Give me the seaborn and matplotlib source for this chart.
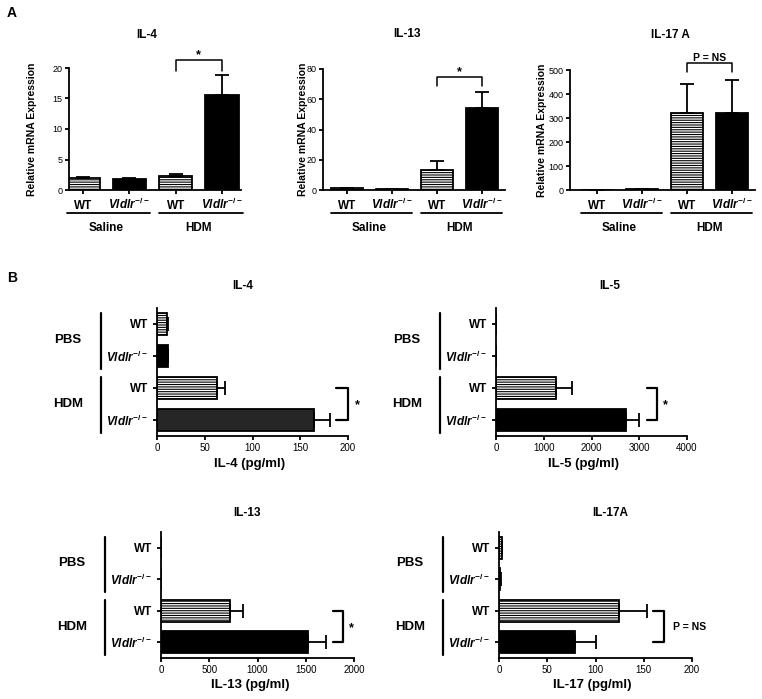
import numpy as np
import pandas as pd
import matplotlib
matplotlib.use('Agg')
import matplotlib.pyplot as plt
import matplotlib.transforms as mtransforms
import seaborn as sns

# --- Values (mean and upper error bar) ---
a_groups = ['Saline', 'Saline', 'HDM', 'HDM']
a_genotypes = ['WT', 'Vldlr', 'WT', 'Vldlr']

a_il4_mean = [1.9, 1.8, 2.3, 15.6]
a_il4_err = [0.3, 0.15, 0.35, 3.2]
a_il13_mean = [1.0, 0.6, 13.5, 54.0]
a_il13_err = [0.3, 0.2, 5.5, 11.0]
a_il17_mean = [1.5, 4.0, 322, 320]
a_il17_err = [0.5, 1.0, 118, 140]

b_groups = ['PBS', 'PBS', 'HDM', 'HDM']
b_genotypes = ['WT', 'Vldlr', 'WT', 'Vldlr']

b_il4_mean = [10, 11, 63, 164]
b_il4_err = [1, 1, 8, 17]
b_il5_mean = [0, 0, 1250, 2720]
b_il5_err = [0, 0, 350, 280]
b_il13_mean = [0, 0, 715, 1525]
b_il13_err = [0, 0, 135, 185]
b_il17_mean = [3, 1.5, 124, 79]
b_il17_err = [0.5, 0.5, 29, 21]

# --- Style ---
sns.set_style('ticks')
plt.rcParams['font.family'] = ['Liberation Sans', 'DejaVu Sans']
plt.rcParams.update({
    'mathtext.fontset': 'custom',
    'mathtext.it': 'Liberation Sans:italic:bold',
    'mathtext.rm': 'Liberation Sans:bold',
    'mathtext.bf': 'Liberation Sans:bold',
    'hatch.linewidth': 0.8,
    'hatch.color': 'black',
    'axes.linewidth': 1.3,
    'axes.edgecolor': 'black',
    'axes.labelcolor': 'black',
    'text.color': 'black',
    'xtick.color': 'black',
    'ytick.color': 'black',
    'xtick.major.width': 1.3,
    'ytick.major.width': 1.3,
    'xtick.major.size': 3,
    'ytick.major.size': 3,
})

W, H = 762, 699
fig = plt.figure(figsize=(W / 100, H / 100), dpi=100)


def add_ax(left, top, right, bottom):
    return fig.add_axes([left / W, 1 - bottom / H, (right - left) / W, (bottom - top) / H])


def geno_label(g):
    return 'WT' if g == 'WT' else r'$Vldlr^{-/-}$'


def style_bars(ax, genotypes):
    for patch, g in zip(ax.patches, genotypes):
        patch.set_edgecolor('black')
        if g == 'WT':
            patch.set_facecolor('white')
            patch.set_hatch('-------')


def fig_text(x, y, s, **kw):
    fig.text(x / W, 1 - y / H, s, ha='center', va='center', fontweight='bold', **kw)


# --- Panel A: vertical bars ---
def panel_a(rect, means, errs, ylim, yticks, xlim, ylabel_right, sig_px, sig_text, sig_size):
    ax = add_ax(*rect)
    left, top, right, bottom = rect
    keys = [f'{g} {t}' for g, t in zip(a_groups, a_genotypes)]
    colors = ['white' if t == 'WT' else 'black' for t in a_genotypes]
    df = pd.DataFrame({'key': keys, 'value': means})
    sns.barplot(data=df, x='key', y='value', hue='key', order=keys, hue_order=keys,
                palette=colors, width=0.72, linewidth=1.3, errorbar=None,
                legend=False, ax=ax)
    style_bars(ax, a_genotypes)

    pos = np.arange(len(keys))
    m = np.array(errs) > 0
    ax.errorbar(pos[m], np.array(means)[m], yerr=[np.zeros(m.sum()), np.array(errs)[m]],
                fmt='none', ecolor='black', elinewidth=1.3, capsize=5, capthick=1.3)

    ax.set_xlim(*xlim)
    ax.set_ylim(*ylim)
    ax.set_yticks(yticks)
    ax.tick_params(axis='y', labelsize=6.5, pad=1.5)
    ax.set_xticks(pos)
    ax.set_xticklabels([geno_label(t) for t in a_genotypes], fontweight='bold', fontsize=8.5)
    ax.tick_params(axis='x', pad=10.5)
    plt.setp(ax.get_xticklabels(), va='baseline')
    ax.set_xlabel('')
    ax.set_ylabel('Relative mRNA Expression', fontweight='bold', fontsize=7.5)
    ax.yaxis.set_label_coords((ylabel_right - left) / (right - left), 0.5)
    sns.despine(ax=ax)

    h = bottom - top
    trans = mtransforms.blended_transform_factory(ax.transData, ax.transAxes)
    # group underlines and labels
    for i0, name in [(0, a_groups[0]), (2, a_groups[2])]:
        ax.plot([i0 - 0.35, i0 + 1.45], [-(213 - bottom) / h] * 2, transform=trans,
                clip_on=False, color='black', lw=1.3)
        ax.text(i0 + 0.5, -(228 - bottom) / h, name, transform=trans, ha='center',
                va='center', fontweight='bold', fontsize=8.5)
    # significance bracket
    y_hi, y_lo = [(bottom - p) / h for p in sig_px]
    ax.plot([2, 2, 3, 3], [y_lo, y_hi, y_hi, y_lo], transform=trans, clip_on=False,
            color='black', lw=1.1)
    ax.annotate(sig_text, xy=(2.5, y_hi), xycoords=trans, xytext=(0, 1.5),
                textcoords='offset points', ha='center', va='baseline',
                fontweight='bold', fontsize=sig_size)
    return ax


panel_a((69, 68, 241, 190), a_il4_mean, a_il4_err, (0, 20), [0, 5, 10, 15, 20],
        (-0.30, 3.41), 37, (60, 71), '*', 9)
panel_a((323, 69, 505, 190), a_il13_mean, a_il13_err, (0, 80), [0, 20, 40, 60, 80],
        (-0.53, 3.51), 308, (77, 86), '*', 9)
panel_a((570, 70, 755, 190), a_il17_mean, a_il17_err, (0, 500), [0, 100, 200, 300, 400, 500],
        (-0.60, 3.51), 547, (63, 72), 'P = NS', 7.5)

fig_text(147, 35, 'IL-4', fontsize=8.5)
fig_text(407, 34, 'IL-13', fontsize=8.5)
fig_text(670, 35, 'IL-17 A', fontsize=8.5)


# --- Panel B: horizontal bars ---
def panel_b(rect, means, errs, xmax, xticks, xlabel, xlabel_x, sig_x, sig_text, sig_size,
            hdm_ko_color='black'):
    ax = add_ax(*rect)
    left, top, right, bottom = rect
    w = right - left
    keys = [f'{g} {t}' for g, t in zip(b_groups, b_genotypes)]
    colors = ['white', 'black', 'white', hdm_ko_color]
    df = pd.DataFrame({'key': keys, 'value': means})
    sns.barplot(data=df, y='key', x='value', hue='key', order=keys, hue_order=keys,
                palette=colors, width=0.7, linewidth=1.3, errorbar=None,
                legend=False, orient='h', ax=ax)
    style_bars(ax, b_genotypes)

    pos = np.arange(len(keys))
    m = np.array(errs) > 0
    ax.errorbar(np.array(means)[m], pos[m], xerr=[np.zeros(m.sum()), np.array(errs)[m]],
                fmt='none', ecolor='black', elinewidth=1.3, capsize=5, capthick=1.3)

    ax.set_ylim(3.5, -0.5)
    ax.set_xlim(0, xmax)
    ax.set_xticks(xticks)
    ax.tick_params(axis='x', labelsize=7, pad=2)
    ax.set_yticks(pos)
    ax.set_yticklabels([geno_label(t) for t in b_genotypes], fontweight='bold', fontsize=8.5)
    ax.tick_params(axis='y', pad=3.5)
    ax.set_ylabel('')
    ax.set_xlabel(xlabel, fontweight='bold', fontsize=9.5)
    ax.xaxis.set_label_coords((xlabel_x - left) / w, -0.17)
    sns.despine(ax=ax)

    trans = mtransforms.blended_transform_factory(ax.transAxes, ax.transData)
    for i0, name in [(0, b_groups[0]), (2, b_groups[2])]:
        ax.plot([-56 / w] * 2, [i0 - 0.35, i0 + 1.4], transform=trans, clip_on=False,
                color='black', lw=1.6)
        ax.text(-89 / w, i0 + 0.5, name, transform=trans, ha='center', va='center',
                fontweight='bold', fontsize=9.5)
    x_lo, x_hi, x_txt = [(p - left) / w for p in sig_x]
    ax.plot([x_lo, x_hi, x_hi, x_lo], [2, 2, 3, 3], transform=trans, clip_on=False,
            color='black', lw=1.6)
    if sig_text == '*':
        ax.annotate(sig_text, xy=(x_txt, 2.5), xycoords=trans, xytext=(0, -1),
                    textcoords='offset points', ha='center', va='center',
                    fontweight='bold', fontsize=9)
    else:
        ax.text(x_txt, 2.5, sig_text, transform=trans, ha='left', va='center',
                fontweight='bold', fontsize=sig_size)
    return ax


panel_b((157, 308, 348, 436), b_il4_mean, b_il4_err, 200, [0, 50, 100, 150, 200],
        'IL-4 (pg/ml)', 250, (336, 348, 357), '*', 9, hdm_ko_color='#262626')
panel_b((496, 308, 687, 436), b_il5_mean, b_il5_err, 4000, [0, 1000, 2000, 3000, 4000],
        'IL-5 (pg/ml)', 583, (647, 657, 665), '*', 9)
panel_b((161, 532, 354, 658), b_il13_mean, b_il13_err, 2000, [0, 500, 1000, 1500, 2000],
        'IL-13 (pg/ml)', 250, (333, 343, 351), '*', 9)
panel_b((499, 532, 692, 658), b_il17_mean, b_il17_err, 200, [0, 50, 100, 150, 200],
        'IL-17 (pg/ml)', 592, (653, 664, 673), 'P = NS', 7.5)

fig_text(243, 286, 'IL-4', fontsize=8.5)
fig_text(610, 286, 'IL-5', fontsize=8.5)
fig_text(247, 513, 'IL-13', fontsize=8.5)
fig_text(610, 513, 'IL-17A', fontsize=8.5)

fig_text(12, 13, 'A', fontsize=10)
fig_text(12, 278, 'B', fontsize=10)

fig.savefig('out.png', dpi=100, facecolor='white')
